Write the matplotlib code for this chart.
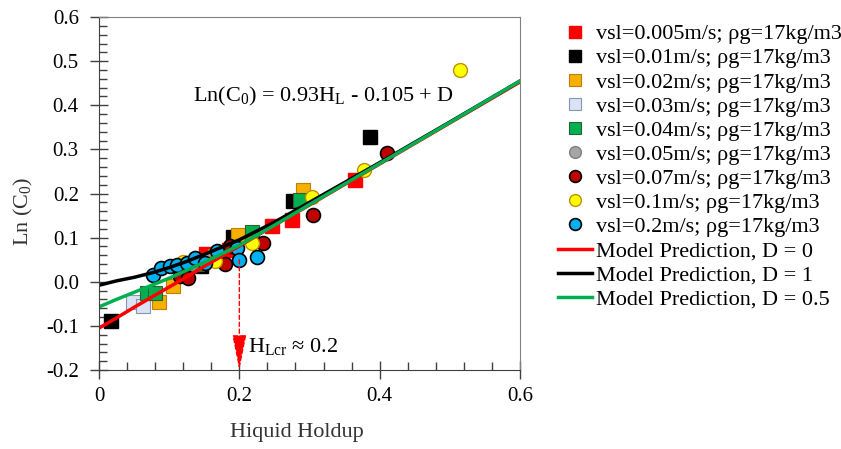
import matplotlib
matplotlib.use("Agg")
import matplotlib.pyplot as plt
from matplotlib.ticker import MultipleLocator, FixedLocator

plt.rcParams['font.family'] = ['Liberation Serif', 'DejaVu Serif']
plt.rcParams['mathtext.fontset'] = 'custom'
plt.rcParams['mathtext.rm'] = 'Liberation Serif'
plt.rcParams['mathtext.it'] = 'Liberation Serif:italic'

# measured points, one pair of lists per liquid velocity
hl_005 = [0.122, 0.152, 0.185, 0.246, 0.275, 0.365]
c0_005 = [0.020, 0.062, 0.072, 0.127, 0.140, 0.231]
hl_01 = [0.017, 0.145, 0.191, 0.277, 0.386]
c0_01 = [-0.088, 0.035, 0.102, 0.183, 0.329]
hl_02 = [0.085, 0.106, 0.125, 0.165, 0.198, 0.291]
c0_02 = [-0.045, -0.010, 0.020, 0.058, 0.105, 0.207]
hl_03 = [0.049, 0.063]
c0_03 = [-0.045, -0.054]
hl_04 = [0.068, 0.080, 0.140, 0.218, 0.286]
c0_04 = [-0.025, -0.025, 0.040, 0.113, 0.185]
hl_05 = [0.130, 0.160]
c0_05 = [0.040, 0.055]
hl_07 = [0.115, 0.127, 0.180, 0.187, 0.234, 0.305, 0.410]
c0_07 = [0.012, 0.008, 0.040, 0.082, 0.088, 0.152, 0.292]
hl_1 = [0.120, 0.165, 0.218, 0.303, 0.377, 0.515]
c0_1 = [0.045, 0.046, 0.088, 0.193, 0.253, 0.480]
hl_2 = [0.077, 0.089, 0.101, 0.111, 0.125, 0.137, 0.151, 0.168, 0.196, 0.199, 0.225]
c0_2 = [0.016, 0.031, 0.035, 0.039, 0.042, 0.054, 0.042, 0.069, 0.076, 0.050, 0.057]

# model curves
hl_model = [0, 0.025, 0.05, 0.075, 0.1, 0.125, 0.15, 0.2, 0.25, 0.3, 0.4, 0.5, 0.6]
model_d0 = [-0.105, -0.082, -0.058, -0.035, -0.012, 0.011, 0.035, 0.081, 0.128, 0.174, 0.267, 0.360, 0.453]
model_d1 = [-0.008, 0.002, 0.010, 0.020, 0.032, 0.046, 0.062, 0.095, 0.135, 0.180, 0.270, 0.362, 0.455]
model_d05 = [-0.057, -0.040, -0.024, -0.008, 0.008, 0.026, 0.044, 0.083, 0.128, 0.175, 0.268, 0.361, 0.455]

fig = plt.figure(figsize=(8.41, 4.49), dpi=100)
ax = fig.add_axes([0.1177, 0.176, 0.5006, 0.786])

ms = 10
ax.plot(hl_005, c0_005, 's', ms=ms, color='#FF0000', mec='#FF0000', label='vsl=0.005m/s; ρg=17kg/m3')
ax.plot(hl_01, c0_01, 's', ms=ms, color='#000000', mec='#000000', label='vsl=0.01m/s; ρg=17kg/m3')
ax.plot(hl_02, c0_02, 's', ms=ms, color='#F5B000', mec='#C08000', mew=0.8, label='vsl=0.02m/s; ρg=17kg/m3')
ax.plot(hl_03, c0_03, 's', ms=ms, color='#DAE3F3', mec='#8497B0', mew=0.8, label='vsl=0.03m/s; ρg=17kg/m3')
ax.plot(hl_04, c0_04, 's', ms=ms, color='#00B050', mec='#2F5F2F', mew=0.8, label='vsl=0.04m/s; ρg=17kg/m3')
ax.plot(hl_05, c0_05, 'o', ms=ms, color='#A6A6A6', mec='#7F7F7F', mew=1, label='vsl=0.05m/s; ρg=17kg/m3')
ax.plot(hl_07, c0_07, 'o', ms=ms, color='#C00000', mec='#000000', mew=1.2, label='vsl=0.07m/s; ρg=17kg/m3')
ax.plot(hl_1, c0_1, 'o', ms=ms, color='#FFFF00', mec='#BF9000', mew=1, label='vsl=0.1m/s; ρg=17kg/m3')
ax.plot(hl_2, c0_2, 'o', ms=ms, color='#00B0F0', mec='#000000', mew=1.2, label='vsl=0.2m/s; ρg=17kg/m3')

ax.plot(hl_model, model_d0, color='#FF0000', lw=2.5, label='Model Prediction, D = 0')
ax.plot(hl_model, model_d1, color='#000000', lw=2.5, label='Model Prediction, D = 1')
ax.plot(hl_model, model_d05, color='#00B050', lw=2.5, label='Model Prediction, D = 0.5')

# critical holdup marker
ax.annotate('', xy=(0.2, -0.2), xytext=(0.2, 0.05),
            arrowprops=dict(arrowstyle='-|>,head_length=1.1,head_width=0.22', color='#FF0000',
                            lw=1, linestyle=(0, (3, 2)), mutation_scale=20, shrinkA=0, shrinkB=0))
ax.text(0.213, -0.147, 'H$\\mathregular{_{Lcr}}$ ≈ 0.2', fontsize=16, va='center', ha='left')
ax.text(0.134, 0.42, 'Ln(C$\\mathregular{_0}$) = 0.93H$\\mathregular{_L}$ - 0.105 + D',
        fontsize=16, va='center', ha='left')

ax.set_xlim(0, 0.6)
ax.set_ylim(-0.2, 0.6)
ax.xaxis.set_major_locator(FixedLocator([0, 0.2, 0.4, 0.6]))
ax.set_xticklabels(['0', '0.2', '0.4', '0.6'])
ax.xaxis.set_minor_locator(MultipleLocator(0.04))
ax.yaxis.set_major_locator(MultipleLocator(0.1))
ax.yaxis.set_minor_locator(MultipleLocator(0.02))
yt = [-0.2, -0.1, 0.0, 0.1, 0.2, 0.3, 0.4, 0.5, 0.6]
ax.set_yticks(yt)
ax.set_yticklabels(['%.1f' % v for v in yt])

ax.tick_params(which='major', direction='inout', length=13, width=1, labelsize=15, color='#404040')
ax.tick_params(which='minor', direction='in', length=6, width=1, color='#404040')
ax.tick_params(axis='x', which='major', pad=6)
ax.tick_params(axis='y', which='major', pad=8)

for s in ['left', 'bottom']:
    ax.spines[s].set_color('#404040')
for s in ['top', 'right']:
    ax.spines[s].set_color('#808080')

ax.set_xlabel('Hiquid Holdup', fontsize=16, color='#333333')
ax.set_ylabel('Ln (C$\\mathregular{_0}$)', fontsize=16, color='#333333')
ax.xaxis.set_label_coords(0.47, -0.15)
ax.yaxis.set_label_coords(-0.152, 0.45)

fig.legend(loc='upper left', bbox_to_anchor=(0.664, 0.947), frameon=False, fontsize=16,
           borderaxespad=0, borderpad=0, labelspacing=0.16, handlelength=1.5,
           handletextpad=0.2, markerscale=0.85)

fig.savefig('out.png', dpi=100)
